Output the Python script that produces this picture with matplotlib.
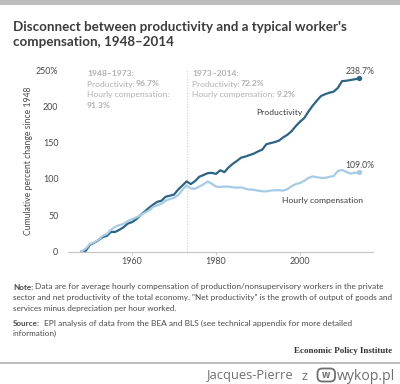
import matplotlib
matplotlib.use('Agg')
import matplotlib.pyplot as plt
from matplotlib.patches import FancyBboxPatch, Rectangle

W = 400
H = 384

prod_years = [1948, 1949, 1950, 1951, 1952, 1953, 1954, 1955, 1956, 1957, 1958, 1959, 1960, 1961, 1962, 1963, 1964,
              1965, 1966, 1967, 1968, 1969, 1970, 1971, 1972, 1973, 1974, 1975, 1976, 1977, 1978, 1979, 1980, 1981,
              1982, 1983, 1984, 1985, 1986, 1987, 1988, 1989, 1990, 1991, 1992, 1993, 1994, 1995, 1996, 1997, 1998,
              1999, 2000, 2001, 2002, 2003, 2004, 2005, 2006, 2007, 2008, 2009, 2010, 2011, 2012, 2013, 2014]
productivity = [0.0, 1.0, 9.5, 12.0, 15.5, 20.0, 21.5, 27.0, 27.0, 30.0, 33.5, 38.5, 40.5, 44.5, 50.0, 55.0, 60.0,
                64.5, 68.5, 70.0, 75.5, 77.0, 78.5, 85.5, 91.0, 96.7, 93.0, 97.0, 103.0, 105.5, 108.0, 108.5, 107.0,
                112.0, 109.5, 116.0, 121.0, 125.0, 129.5, 131.0, 133.0, 135.0, 138.0, 140.5, 148.0, 149.5, 151.0, 153.0,
                157.5, 161.0, 166.0, 173.0, 179.0, 184.0, 193.0, 201.0, 208.0, 214.5, 217.0, 219.0, 220.5, 225.5,
                235.0, 235.5, 236.5, 237.5, 238.7]
compensation = [0.0, 4.0, 10.5, 12.5, 16.0, 21.5, 24.0, 30.0, 34.0, 36.5, 38.0, 42.0, 44.5, 47.0, 50.0, 53.5, 56.5,
                61.5, 63.5, 66.0, 70.0, 72.5, 74.0, 78.0, 85.0, 91.3, 87.0, 86.5, 89.5, 92.5, 96.5, 93.5, 89.5, 89.0,
                89.5, 89.5, 88.5, 88.0, 88.5, 86.5, 85.5, 85.0, 84.0, 83.0, 83.0, 84.0, 84.5, 84.5, 84.0, 86.0, 90.0,
                93.0, 94.5, 97.5, 101.5, 103.5, 102.5, 101.5, 101.5, 103.0, 104.0, 111.0, 112.5, 110.0, 107.5, 108.5, 109.0]
y_ticks = [0, 50, 100, 150, 200, 250]
y_tick_labels = ['0', '50', '100', '150', '200', '250%']
x_ticks = [1960, 1980, 2000]

title_lines = ["Disconnect between productivity and a typical worker's", "compensation, 1948\u20132014"]
note_lines = ['Data are for average hourly compensation of production/nonsupervisory workers in the private',
              'sector and net productivity of the total economy. "Net productivity" is the growth of output of goods and',
              'services minus depreciation per hour worked.']
source_lines = ['EPI analysis of data from the BEA and BLS (see technical appendix for more detailed', 'information)']

DARK = '#2b6485'
LIGHT = '#a5cbe6'
GREY = '#b0b0b0'
TEXT = '#4a4a4a'

plt.rcParams['font.family'] = ['Lato', 'DejaVu Sans']
fig = plt.figure(figsize=(W / 100, H / 100), dpi=100, facecolor='white')


# pixel baseline position (from the top left of the picture) to figure coords
def ptext(x, y, s, **kw):
    kw.setdefault('va', 'baseline')
    kw.setdefault('color', TEXT)
    kw.setdefault('fontsize', 6.5)
    return fig.text(x / W, 1 - y / H, s, **kw)


# axes box in pixels: x 68..373, y 70.25 (250) .. 251.5 (0)
ax = fig.add_axes([68 / W, 1 - 251.5 / H, 305 / W, 181.25 / H])
ax.set_xlim(1944.76, 2017.38)
ax.set_ylim(0, 250)
ax.patch.set_alpha(0)
for s in ['top', 'left', 'right']:
    ax.spines[s].set_visible(False)
ax.spines['bottom'].set_color('#c4c4c4')
ax.spines['bottom'].set_linewidth(0.8)
ax.set_yticks(y_ticks)
ax.set_yticklabels(y_tick_labels)
ax.set_xticks(x_ticks)
ax.tick_params(axis='y', length=0, labelsize=6.4, labelcolor=TEXT, pad=7)
ax.tick_params(axis='x', length=2.5, width=0.6, color='#c4c4c4', labelsize=6.4, labelcolor=TEXT, pad=1.5)
ax.set_ylabel('Cumulative percent change since 1948', fontsize=6.2, color=TEXT)
ax.yaxis.set_label_coords(-0.115, 0.5)

ax.plot([1973, 1973], [0, 250], color='#cfcfcf', lw=0.8, ls=(0, (1, 1.5)))
ax.plot(prod_years, productivity, color=DARK, lw=1.6, solid_joinstyle='round', clip_on=False)
ax.plot(prod_years, compensation, color=LIGHT, lw=1.6, solid_joinstyle='round', clip_on=False)
ax.plot(prod_years[-1], productivity[-1], 'o', color=DARK, ms=2.8, clip_on=False)
ax.plot(prod_years[-1], compensation[-1], 'o', color=LIGHT, ms=2.8, clip_on=False)

ax.text(2014.3, 248.5, '238.7%', fontsize=6.2, color=TEXT, ha='center', va='center')
ax.text(2014.3, 118, '109.0%', fontsize=6.2, color=TEXT, ha='center', va='center')
ax.text(2000.5, 192, 'Productivity', fontsize=6.1, color=TEXT, ha='right', va='center', fontweight='medium')
ax.text(2005.4, 71, 'Hourly compensation', fontsize=6.1, color=TEXT, ha='center', va='center', fontweight='medium')

# top grey band and bottom rule
fig.add_artist(Rectangle((0, 1 - 4.5 / H), 1, 4.5 / H, transform=fig.transFigure, color='#bdbdbd', lw=0))
fig.add_artist(Rectangle((0, 1 - 363.5 / H), 1, 1.5 / H, transform=fig.transFigure, color='#bdbdbd', lw=0))

ptext(13, 31, title_lines[0], fontsize=9.6, fontweight='bold', color='#3c3c3c')
ptext(13, 46, title_lines[1], fontsize=9.6, fontweight='bold', color='#3c3c3c')

# period annotations
ptext(87, 76, '1948\u20131973:', color=GREY, fontweight='bold', fontsize=6.1)
ptext(87, 86.5, 'Productivity: ', color=GREY, fontsize=6.1)
ptext(136, 86.5, '96.7%', color=GREY, fontweight='bold', fontsize=6.1)
ptext(87, 97, 'Hourly compensation:', color=GREY, fontsize=6.1)
ptext(87, 107.5, '91.3%', color=GREY, fontweight='bold', fontsize=6.1)
ptext(192, 76, '1973\u20132014:', color=GREY, fontweight='bold', fontsize=6.1)
ptext(192, 86.5, 'Productivity: ', color=GREY, fontsize=6.1)
ptext(240.5, 86.5, '72.2%', color=GREY, fontweight='bold', fontsize=6.1)
ptext(192, 97, 'Hourly compensation: ', color=GREY, fontsize=6.1)
ptext(277, 97, '9.2%', color=GREY, fontweight='bold', fontsize=6.1)

# note and source
ptext(13, 289.5, 'Note:', fontweight='bold', fontsize=5.85)
ptext(35, 289.5, note_lines[0], fontsize=5.95)
ptext(13, 300, note_lines[1], fontsize=5.83)
ptext(13, 310.5, note_lines[2], fontsize=5.85)
ptext(13, 325.5, 'Source:', fontweight='bold', fontsize=5.85)
ptext(44.3, 325.5, source_lines[0], fontsize=6.0)
ptext(13, 336, source_lines[1], fontsize=5.85)
ptext(392, 353, 'Economic Policy Institute', family='Liberation Serif', fontweight='bold', fontsize=6.5,
      color='#333333', ha='right')

# watermark
ptext(207, 379.5, 'Jacques-Pierre', family='Open Sans', fontsize=9.3, color='#6f6f6f', fontweight='medium')
ptext(301, 379.5, 'z', family='Open Sans', fontsize=9.3, color='#6f6f6f', fontweight='medium')
fig.add_artist(FancyBboxPatch((317.5 / W, 1 - 381.5 / H), 17.5 / W, 13 / H, transform=fig.transFigure,
                              boxstyle='round,pad=0,rounding_size=0.012', fc='none', ec='#6f6f6f', lw=1.3))
ptext(326.2, 377.5, 'w', family='Open Sans', fontsize=7, color='#6f6f6f', fontweight='bold', ha='center')
ptext(337, 379.5, 'wykop.pl', family='Open Sans', fontsize=10.1, color='#6f6f6f')

fig.savefig('out.png', dpi=100, facecolor='white')
